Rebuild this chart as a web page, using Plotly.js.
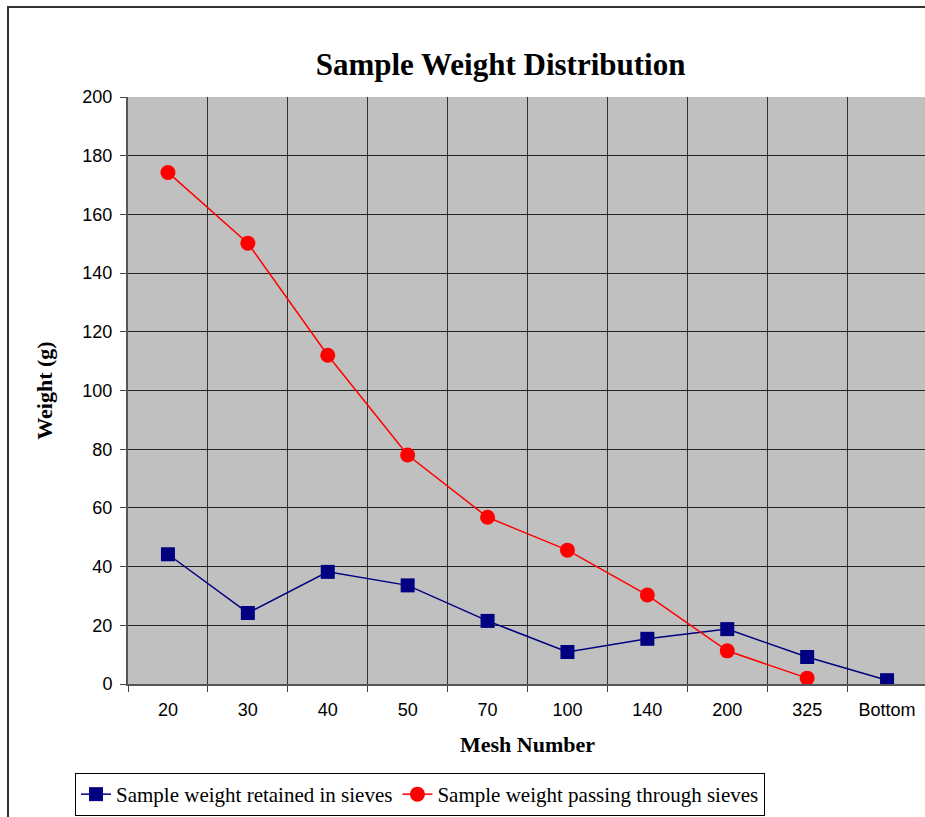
<!DOCTYPE html>
<html>
<head>
<meta charset="utf-8">
<script src="https://cdn.plot.ly/plotly-3.0.1.min.js"></script>
<style>
html,body{margin:0;padding:0;background:#fff;overflow:hidden;}
#chart{width:927px;height:817px;}
</style>
</head>
<body>
<div id="chart"></div>
<script>
const meshNumbers = ["20", "30", "40", "50", "70", "100", "140", "200", "325", "Bottom"];
const retained = [44.2, 24.2, 38.2, 33.6, 21.5, 10.9, 15.4, 18.7, 9.2, 1.3];
const passing = [174.3, 150.2, 112.0, 78.0, 56.8, 45.6, 30.3, 11.3, 2.0, null];
const seriesNames = ["Sample weight retained in sieves", "Sample weight passing through sieves"];

const traces = [
  {
    x: meshNumbers, y: retained, name: seriesNames[0], type: 'scatter', mode: 'lines+markers',
    line: {color: '#000080', width: 1.5},
    marker: {symbol: 'square', size: 14, color: '#000080'}
  },
  {
    x: meshNumbers, y: passing, name: seriesNames[1], type: 'scatter', mode: 'lines+markers',
    line: {color: '#FF0000', width: 1.5},
    marker: {symbol: 'circle', size: 15, color: '#FF0000'}
  }
];

const layout = {
  width: 927, height: 817,
  margin: {l: 128, r: 0, t: 97, b: 133},
  paper_bgcolor: '#ffffff',
  plot_bgcolor: '#C0C0C0',
  title: {
    text: '<b>Sample Weight Distribution</b>',
    font: {family: 'Liberation Serif, Times New Roman, serif', size: 31, color: '#000'},
    xref: 'container', x: 0.54, xanchor: 'center',
    yref: 'container', y: 1 - 64/817, yanchor: 'middle'
  },
  xaxis: {
    type: 'category',
    range: [-0.5, 9.5],
    tickson: 'boundaries',
    ticks: 'outside', ticklen: 6, tickcolor: '#444', tickwidth: 1,
    showgrid: true, gridcolor: '#333', gridwidth: 1,
    showline: true, linecolor: '#555', linewidth: 2,
    tickfont: {family: 'Liberation Sans, Arial, sans-serif', size: 18, color: '#000'},
    ticklabelstandoff: 8,
    title: {text: '<b>Mesh Number</b>', font: {family: 'Liberation Serif, Times New Roman, serif', size: 22, color: '#000'}, standoff: 18},
    fixedrange: true, zeroline: false
  },
  yaxis: {
    range: [0, 200],
    dtick: 20,
    ticks: 'outside', ticklen: 6, tickcolor: '#444', tickwidth: 1,
    showgrid: true, gridcolor: '#222', gridwidth: 1,
    showline: true, linecolor: '#555', linewidth: 2,
    zeroline: false,
    tickfont: {family: 'Liberation Sans, Arial, sans-serif', size: 18, color: '#000'},
    ticklabelstandoff: 4,
    title: {text: '<b>Weight (g)</b>', font: {family: 'Liberation Serif, Times New Roman, serif', size: 22, color: '#000'}, standoff: 24},
    fixedrange: true
  },
  showlegend: true,
  legend: {
    orientation: 'h',
    xref: 'paper', yref: 'paper',
    x: (75 - 128) / 799, xanchor: 'left',
    y: (684 - 816) / 587, yanchor: 'bottom',
    bgcolor: '#ffffff', bordercolor: '#000', borderwidth: 1,
    font: {family: 'Liberation Serif, Times New Roman, serif', size: 21, color: '#000'},
    itemwidth: 30
  },
  shapes: [
    {type: 'rect', xref: 'paper', yref: 'paper',
     x0: (8 - 128) / 799, x1: 1.5, y0: -1, y1: (684 - 7) / 587,
     line: {color: '#333', width: 2}, fillcolor: 'rgba(0,0,0,0)', layer: 'below'}
  ]
};

Plotly.newPlot('chart', traces, layout, {displayModeBar: false, staticPlot: true});
</script>
</body>
</html>
